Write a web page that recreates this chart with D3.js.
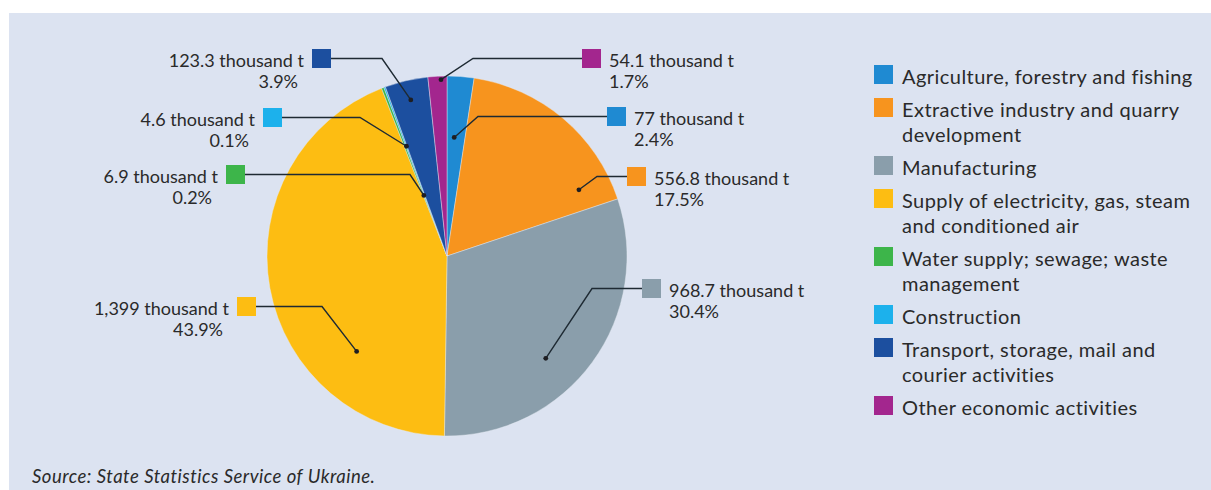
<!DOCTYPE html>
<html>
<head>
<meta charset="utf-8">
<script src="https://cdn.jsdelivr.net/npm/d3@7"></script>
<style>
  html, body { margin: 0; padding: 0; background: #ffffff; }
  svg { display: block; }
  text { font-family: Lato, "Open Sans", sans-serif; fill: #2a2a2a; }
</style>
</head>
<body>
<svg id="chart" width="1211" height="490"></svg>
<script>
// Emissions by economic activity, thousand tonnes
const categories = [
  "Agriculture, forestry and fishing",
  "Extractive industry and quarry development",
  "Manufacturing",
  "Supply of electricity, gas, steam and conditioned air",
  "Water supply; sewage; waste management",
  "Construction",
  "Transport, storage, mail and courier activities",
  "Other economic activities"
];
const values = [77, 556.8, 968.7, 1399, 6.9, 4.6, 123.3, 54.1];
const colors = ["#1f8ad2", "#f7941e", "#8a9eab", "#fdbd12", "#3db54a", "#1cb1ec", "#1c4f9f", "#a3268e"];

// Legend text broken into lines
const legendLines = [
  ["Agriculture, forestry and fishing"],
  ["Extractive industry and quarry", "development"],
  ["Manufacturing"],
  ["Supply of electricity, gas, steam", "and conditioned air"],
  ["Water supply; sewage; waste", "management"],
  ["Construction"],
  ["Transport, storage, mail and", "courier activities"],
  ["Other economic activities"]
];
const unit = " thousand t";

// Callout layout: swatch box, elbow x, and anchor within slice (t = share of slice angle, r = share of radius)
const callouts = [
  { side: "right", x: 607, y: 107, bend: 478, t: 0.40, r: 0.66 },
  { side: "right", x: 627, y: 167, bend: 597, t: 0.87, r: 0.82 },
  { side: "right", x: 642, y: 279, bend: 592, t: 0.59, r: 0.79 },
  { side: "left",  x: 237, y: 297, bend: 322, t: 0.27, r: 0.73 },
  { side: "left",  x: 226, y: 165, bend: 410, t: 0.50, r: 0.36 },
  { side: "left",  x: 263, y: 108, bend: 360, t: 0.50, r: 0.65 },
  { side: "left",  x: 312, y: 49,  bend: 382, t: 0.50, r: 0.89 },
  { side: "right", x: 582, y: 49,  bend: 473, t: 0.68, r: 0.98 }
];

const svg = d3.select("#chart");
const W = 1211, H = 490;

// panel
svg.append("rect").attr("x", 9).attr("y", 13).attr("width", W - 9).attr("height", H - 13).attr("fill", "#dce3f1");

const cx = 447, cy = 256, R = 180;
const sq = 19;

const total = d3.sum(values);
const pie = d3.pie().sort(null).value(d => d)(values);
const arc = d3.arc().innerRadius(0).outerRadius(R);

const g = svg.append("g").attr("transform", `translate(${cx},${cy})`);
g.selectAll("path.slice")
  .data(pie)
  .join("path")
  .attr("class", "slice")
  .attr("d", arc)
  .attr("fill", (d, i) => colors[i])
  .attr("stroke", "#e6ebf4")
  .attr("stroke-width", 0.6)
  .attr("stroke-opacity", 0.7);

const fmtVal = d3.format(",");
const fmtPct = d3.format(".1%");

// callouts
const labels = svg.append("g");
pie.forEach((d, i) => {
  const c = callouts[i];
  const a = d.startAngle + (d.endAngle - d.startAngle) * c.t;
  const rr = R * c.r;
  const px = cx + rr * Math.sin(a);
  const py = cy - rr * Math.cos(a);
  const ly = c.y + sq / 2;
  const x0 = c.side === "left" ? c.x + sq : c.x;

  labels.append("polyline")
    .attr("points", `${x0},${ly} ${c.bend},${ly} ${px},${py}`)
    .attr("fill", "none")
    .attr("stroke", "#1e2a33")
    .attr("stroke-width", 1.4);
  labels.append("circle").attr("cx", px).attr("cy", py).attr("r", 2.4).attr("fill", "#1e1e22");
  labels.append("rect").attr("x", c.x).attr("y", c.y).attr("width", sq).attr("height", sq).attr("fill", colors[i]);

  const t1 = fmtVal(values[i]) + unit;
  const t2 = fmtPct(values[i] / total);
  if (c.side === "left") {
    labels.append("text").attr("x", c.x - 8).attr("y", c.y + 18).attr("text-anchor", "end")
      .style("font-size", "18px").text(t1);
    labels.append("text").attr("x", c.x - 14).attr("y", c.y + 39).attr("text-anchor", "end")
      .style("font-size", "18px").text(t2);
  } else {
    labels.append("text").attr("x", c.x + sq + 8).attr("y", c.y + 18)
      .style("font-size", "18px").text(t1);
    labels.append("text").attr("x", c.x + sq + 8).attr("y", c.y + 39)
      .style("font-size", "18px").text(t2);
  }
});

// legend
const legend = svg.append("g");
let ly = 84;
legendLines.forEach((lines, i) => {
  legend.append("rect").attr("x", 874).attr("y", ly - 19).attr("width", sq).attr("height", sq).attr("fill", colors[i]);
  const tx = legend.append("text").attr("x", 902).attr("y", ly)
    .style("font-size", "20px").style("letter-spacing", "0.45px");
  lines.forEach((s, j) => {
    tx.append("tspan").attr("x", 902).attr("y", ly + j * 25).text(s);
  });
  ly += 25 * (lines.length - 1) + 33;
});

// source note
svg.append("text")
  .attr("x", 32).attr("y", 483)
  .style("font-size", "18.5px").style("font-style", "italic").style("letter-spacing", "0.5px")
  .text("Source: State Statistics Service of Ukraine.");
</script>
</body>
</html>
